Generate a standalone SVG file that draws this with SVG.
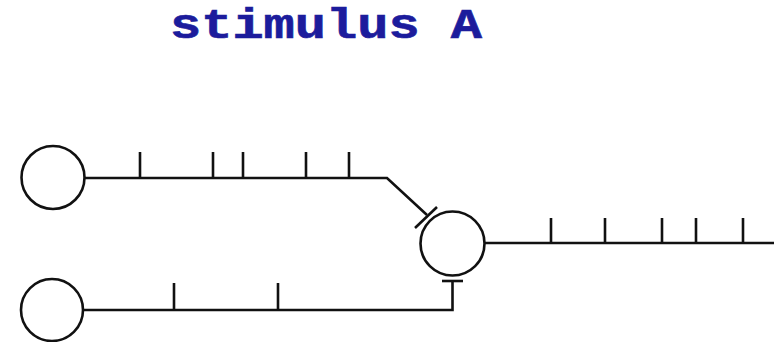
<svg xmlns="http://www.w3.org/2000/svg" width="774" height="342" viewBox="0 0 774 342">
  <style>
    .ln { fill: none; stroke: #111; stroke-width: 2.6; stroke-linecap: butt; stroke-linejoin: miter; }
    .cell { fill: #fff; stroke: #111; stroke-width: 2.6; }
    .title { font-family: "Liberation Mono", "Courier New", monospace; font-weight: bold; font-size: 52px; fill: #1c1c9c; stroke: #1c1c9c; stroke-width: 0.8; }
  </style>
  <rect width="774" height="342" fill="#fff"/>
  <!-- title, flattened vertically to the proportions of a Courier face -->
  <text class="title" x="0" y="0" transform="translate(170 38) scale(1 0.8)">stimulus A</text>

  <g id="connectors">
    <!-- upper input axon with spikes, ending in inhibitory bar -->
    <path class="ln" d="M85 178 H387 L427 215"/>
    <path class="ln" d="M140 178 V152 M213 178 V152 M243 178 V152 M306 178 V152 M349 178 V152"/>
    <path class="ln" d="M415 228 L437 207"/>
    <!-- lower input axon with spikes, ending in inhibitory bar -->
    <path class="ln" d="M83 310 H452.5 V281"/>
    <path class="ln" d="M174 310 V283 M278 310 V283"/>
    <path class="ln" d="M442 281 H463"/>
    <!-- output axon with spikes -->
    <path class="ln" d="M484 243 H774"/>
    <path class="ln" d="M551 243 V218 M605 243 V218 M662 243 V218 M696 243 V218 M743 243 V218"/>
  </g>

  <g id="neuron-upper"><circle class="cell" cx="53" cy="177.5" r="31.5"/></g>
  <g id="neuron-lower"><circle class="cell" cx="52" cy="310" r="31"/></g>
  <g id="neuron-target"><circle class="cell" cx="452.5" cy="243.5" r="32"/></g>
</svg>
